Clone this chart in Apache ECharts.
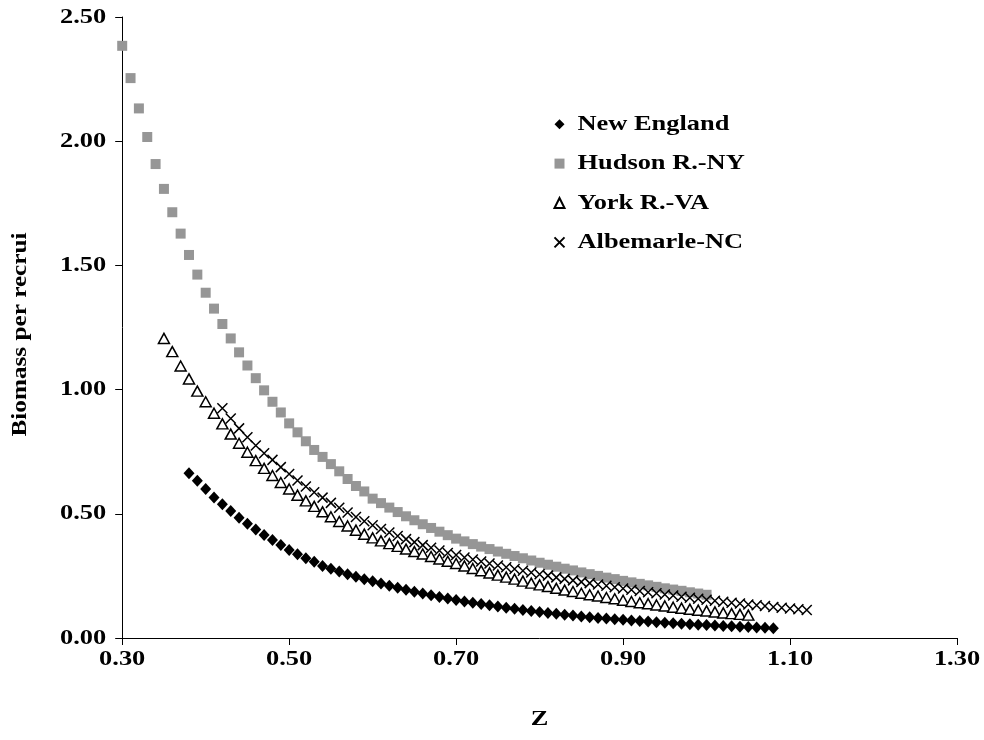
<!DOCTYPE html>
<html>
<head>
<meta charset="utf-8">
<script src="https://cdn.jsdelivr.net/npm/echarts@6/dist/echarts.min.js"></script>
<style>
html,body{margin:0;padding:0;background:#fff;}
#chart{width:984px;height:740px;}
</style>
</head>
<body>
<div id="chart"></div>
<script>
// Series names
const seriesNames = ['New England', 'Hudson R.-NY', 'York R.-VA', 'Albemarle-NC'];

// First Z value of each series (step 0.01)
const zStartNE = 0.38;
const zStartHud = 0.30;
const zStartYork = 0.35;
const zStartAlb = 0.42;
const zStep = 0.01;

// Biomass per recruit values
const yNE = [0.663,0.633,0.600,0.566,0.538,0.511,0.484,0.460,0.437,0.415,0.395,0.374,0.354,0.337,0.321,0.307,0.290,
  0.279,0.268,0.257,0.247,0.237,0.228,0.219,0.210,0.202,0.194,0.186,0.179,0.172,0.165,0.159,0.153,
  0.147,0.142,0.137,0.132,0.127,0.122,0.118,0.113,0.109,0.105,0.101,0.098,0.094,0.091,0.087,0.084,0.081,0.078,0.075,0.073,
  0.070,0.068,0.066,0.063,0.061,0.059,0.057,0.055,0.053,0.052,0.050,0.048,0.047,0.045,0.044,0.042,0.041,0.039];

const yHud = [2.384,2.254,2.132,2.017,1.908,1.808,1.714,1.628,1.542,1.463,1.390,1.326,1.264,1.206,1.150,1.097,1.046,0.997,
  0.951,0.908,0.864,0.828,0.792,0.757,0.729,0.700,0.671,0.640,0.612,0.590,0.561,
  0.543,0.525,0.507,0.490,0.474,0.458,0.443,0.428,0.414,0.400,
  0.389,0.378,0.368,0.358,0.348,0.339,0.330,0.321,0.312,0.303,0.295,0.287,0.279,0.272,0.264,0.257,0.250,0.243,0.237,0.230,
  0.224,0.218,0.212,0.206,0.200,0.195,0.190,0.184,0.179,0.174];

const yYork = [1.206,1.153,1.095,1.043,0.994,0.951,0.905,0.862,0.821,0.784,0.748,0.714,0.683,0.654,0.626,0.600,
  0.575,0.552,0.530,0.508,0.488,0.469,0.451,0.434,0.418,0.403,
  0.391,0.380,0.369,0.358,0.348,0.338,0.328,0.318,0.309,0.300,
  0.290,0.280,0.271,0.262,0.253,0.245,0.237,0.229,0.221,0.214,0.207,0.200,0.193,0.187,0.180,0.174,0.169,0.163,0.158,0.152,
  0.147,0.142,0.138,0.133,0.129,0.124,0.120,0.116,0.112,0.109,0.105,0.101,0.098,0.095,0.092];

const yAlb = [0.925,0.884,0.844,0.808,0.775,0.744,0.717,0.688,0.660,
  0.634,0.610,0.587,0.565,0.544,0.524,0.505,0.487,0.470,0.454,0.439,0.425,0.411,0.398,0.386,0.374,0.363,0.352,0.342,0.334,
  0.324,0.316,0.308,0.300,0.292,0.285,0.278,0.271,0.264,0.257,0.251,0.244,0.238,0.232,0.226,0.221,0.215,0.210,0.204,0.199,
  0.194,0.189,0.184,0.180,0.175,0.171,0.166,0.162,0.158,0.154,0.150,0.146,0.142,0.139,0.135,0.132,0.129,0.125,0.122,0.119,0.116,0.113];

// Axis ticks
const xTicks = [0.30, 0.50, 0.70, 0.90, 1.10, 1.30];
const yTicks = [0.00, 0.50, 1.00, 1.50, 2.00, 2.50];

// The original text is horizontally stretched; widen glyphs on the canvas
(function () {
  const SX = 1.2;
  const P = CanvasRenderingContext2D.prototype;
  const of = P.fillText, os = P.strokeText, om = P.measureText;
  function draw(orig) {
    return function (t, x, y, maxW) {
      this.save();
      this.translate(x, y);
      this.scale(SX, 1);
      let r;
      if (maxW !== undefined && maxW !== null) r = orig.call(this, t, 0, 0, maxW / SX);
      else r = orig.call(this, t, 0, 0);
      this.restore();
      return r;
    };
  }
  P.fillText = draw(of);
  P.strokeText = draw(os);
  P.measureText = function (t) {
    const m = om.call(this, t);
    return {
      width: m.width * SX,
      actualBoundingBoxLeft: (m.actualBoundingBoxLeft || 0) * SX,
      actualBoundingBoxRight: (m.actualBoundingBoxRight || 0) * SX,
      actualBoundingBoxAscent: m.actualBoundingBoxAscent,
      actualBoundingBoxDescent: m.actualBoundingBoxDescent,
      fontBoundingBoxAscent: m.fontBoundingBoxAscent,
      fontBoundingBoxDescent: m.fontBoundingBoxDescent
    };
  };
})();

function pairs(zStart, ys) {
  return ys.map((v, i) => [Math.round((zStart + i * zStep) * 100) / 100, v]);
}

const font = '"Liberation Serif", "Times New Roman", serif';
const crossPath = 'path://M0,0L10,10M10,0L0,10';

const chart = echarts.init(document.getElementById('chart'), null, {renderer: 'canvas'});
chart.setOption({
  animation: false,
  backgroundColor: '#ffffff',
  grid: {left: 122, right: 27, top: 17, bottom: 102, containLabel: false},
  legend: {
    orient: 'vertical',
    left: 547,
    top: 106,
    itemGap: 13,
    itemWidth: 10,
    itemHeight: 10,
    textStyle: {fontFamily: font, fontWeight: 'bold', fontSize: 22, color: '#000', padding: [0, 0, 0, 8]},
    data: seriesNames
  },
  xAxis: {
    type: 'value',
    min: 0.30, max: 1.30, interval: 0.20,
    name: 'Z', nameLocation: 'middle', nameGap: 68,
    nameTextStyle: {fontFamily: font, fontWeight: 'bold', fontSize: 22, color: '#000'},
    axisLine: {show: true, onZero: false, lineStyle: {color: '#000', width: 1}},
    axisTick: {show: true, inside: false, length: 7, lineStyle: {color: '#000'}},
    splitLine: {show: false},
    axisLabel: {
      fontFamily: font, fontWeight: 'bold', fontSize: 22, color: '#000', margin: 8,
      formatter: v => xTicks.some(t => Math.abs(t - v) < 1e-6) ? v.toFixed(2) : ''
    }
  },
  yAxis: {
    type: 'value',
    min: 0, max: 2.5, interval: 0.5,
    name: 'Biomass per recrui', nameLocation: 'middle', nameGap: 89, nameRotate: 90,
    nameTextStyle: {fontFamily: font, fontWeight: 'bold', fontSize: 21, color: '#000', padding: [0, 14, 0, 0]},
    axisLine: {show: true, onZero: false, lineStyle: {color: '#000', width: 1}},
    axisTick: {show: true, inside: false, length: 7, lineStyle: {color: '#000'}},
    splitLine: {show: false},
    axisLabel: {
      fontFamily: font, fontWeight: 'bold', fontSize: 22, color: '#000', margin: 16,
      formatter: v => yTicks.some(t => Math.abs(t - v) < 1e-6) ? v.toFixed(2) : ''
    }
  },
  series: [
    {
      name: seriesNames[0], type: 'scatter', symbol: 'diamond', symbolSize: [11, 12],
      itemStyle: {color: '#000', opacity: 1},
      data: pairs(zStartNE, yNE), z: 4
    },
    {
      name: seriesNames[1], type: 'scatter', symbol: 'rect', symbolSize: 10,
      itemStyle: {color: '#969696', opacity: 1},
      data: pairs(zStartHud, yHud), z: 1
    },
    {
      name: seriesNames[2], type: 'scatter', symbol: 'triangle', symbolSize: [11, 10],
      itemStyle: {color: '#ffffff', borderColor: '#000', borderWidth: 1.5, opacity: 1},
      data: pairs(zStartYork, yYork), z: 2
    },
    {
      name: seriesNames[3], type: 'scatter', symbol: crossPath, symbolSize: 10,
      itemStyle: {color: 'none', borderColor: '#000', borderWidth: 1.5, opacity: 1},
      data: pairs(zStartAlb, yAlb), z: 3
    }
  ]
});
</script>
</body>
</html>
